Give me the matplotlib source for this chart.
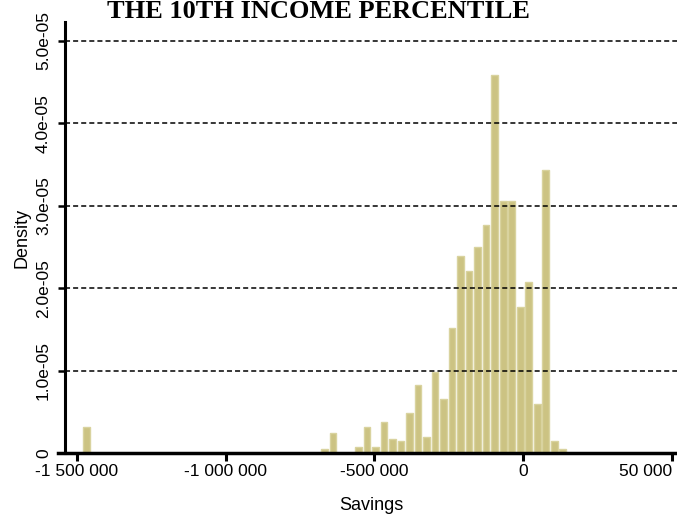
import matplotlib
matplotlib.use("Agg")
import matplotlib.pyplot as plt
import numpy as np

# histogramme : bornes des classes et densites (x 1e-05)
bin_start = -1481700
bin_width = 28590
densities = [
    0.31, 0, 0, 0, 0, 0, 0, 0, 0, 0,
    0, 0, 0, 0, 0, 0, 0, 0, 0, 0,
    0, 0, 0, 0, 0, 0, 0, 0, 0.05, 0.24,
    0, 0, 0.07, 0.31, 0.07, 0.37, 0.17, 0.15, 0.49, 0.83,
    0.20, 0.98, 0.66, 1.51, 2.39, 2.21, 2.50, 2.76, 4.59, 3.06,
    3.06, 1.77, 2.07, 0.59, 3.43, 0.15, 0.05,
]
x_ticks = [-1500000, -1000000, -500000, 0, 500000]
x_labels = ["-1 500 000", "-1 000 000", "-500 000", "0", "50 000"]
y_ticks = [0, 1e-05, 2e-05, 3e-05, 4e-05, 5e-05]
y_labels = ["0", "1.0e-05", "2.0e-05", "3.0e-05", "4.0e-05", "5.0e-05"]
title = "THE 10TH INCOME PERCENTILE"

dens = np.array(densities) * 1e-05
centers = bin_start + (np.arange(len(dens)) + 0.5) * bin_width

plt.rcParams['font.family'] = ['Liberation Sans', 'DejaVu Sans']

fig = plt.figure(figsize=(6.77, 5.17), dpi=100)
ax = fig.add_axes([65 / 677, 64 / 517, 612 / 677, 431 / 517])

ax.bar(centers, dens, width=bin_width * 0.78, color='#ccc383',
       edgecolor='#d9d39f', linewidth=1, zorder=2)

# lignes horizontales pointillees au-dessus des barres
for v in y_ticks[1:]:
    ax.axhline(v, color='black', lw=1.1, ls=(0, (3.3, 2.0)), zorder=3)

ax.set_xlim(-1540000, 518000)
ax.set_ylim(0, 5.227e-05)

ax.set_xticks(x_ticks)
xl = ax.set_xticklabels(x_labels, fontsize=12.5)
xl[-1].set_ha('right')
ax.set_yticks(y_ticks)
ax.set_yticklabels(y_labels, fontsize=12.5, rotation=90, va='center')

ax.tick_params(axis='x', length=6, width=2.2, pad=2)
ax.tick_params(axis='y', length=5, width=1.8, pad=5)

for s in ['top', 'right']:
    ax.spines[s].set_visible(False)
ax.spines['left'].set_linewidth(2.2)
ax.spines['bottom'].set_linewidth(2.5)
ax.spines['bottom'].set_bounds(-1565000, 518000)

ax.set_xlabel("Savings", fontsize=13, labelpad=13)
ax.set_ylabel("Density", fontsize=13, labelpad=4)

fig.text(318 / 677, 1 - 18.5 / 517, title, ha='center', va='baseline',
         family='Liberation Serif', fontweight='bold', fontsize=19)

fig.savefig('out.png', dpi=100)
